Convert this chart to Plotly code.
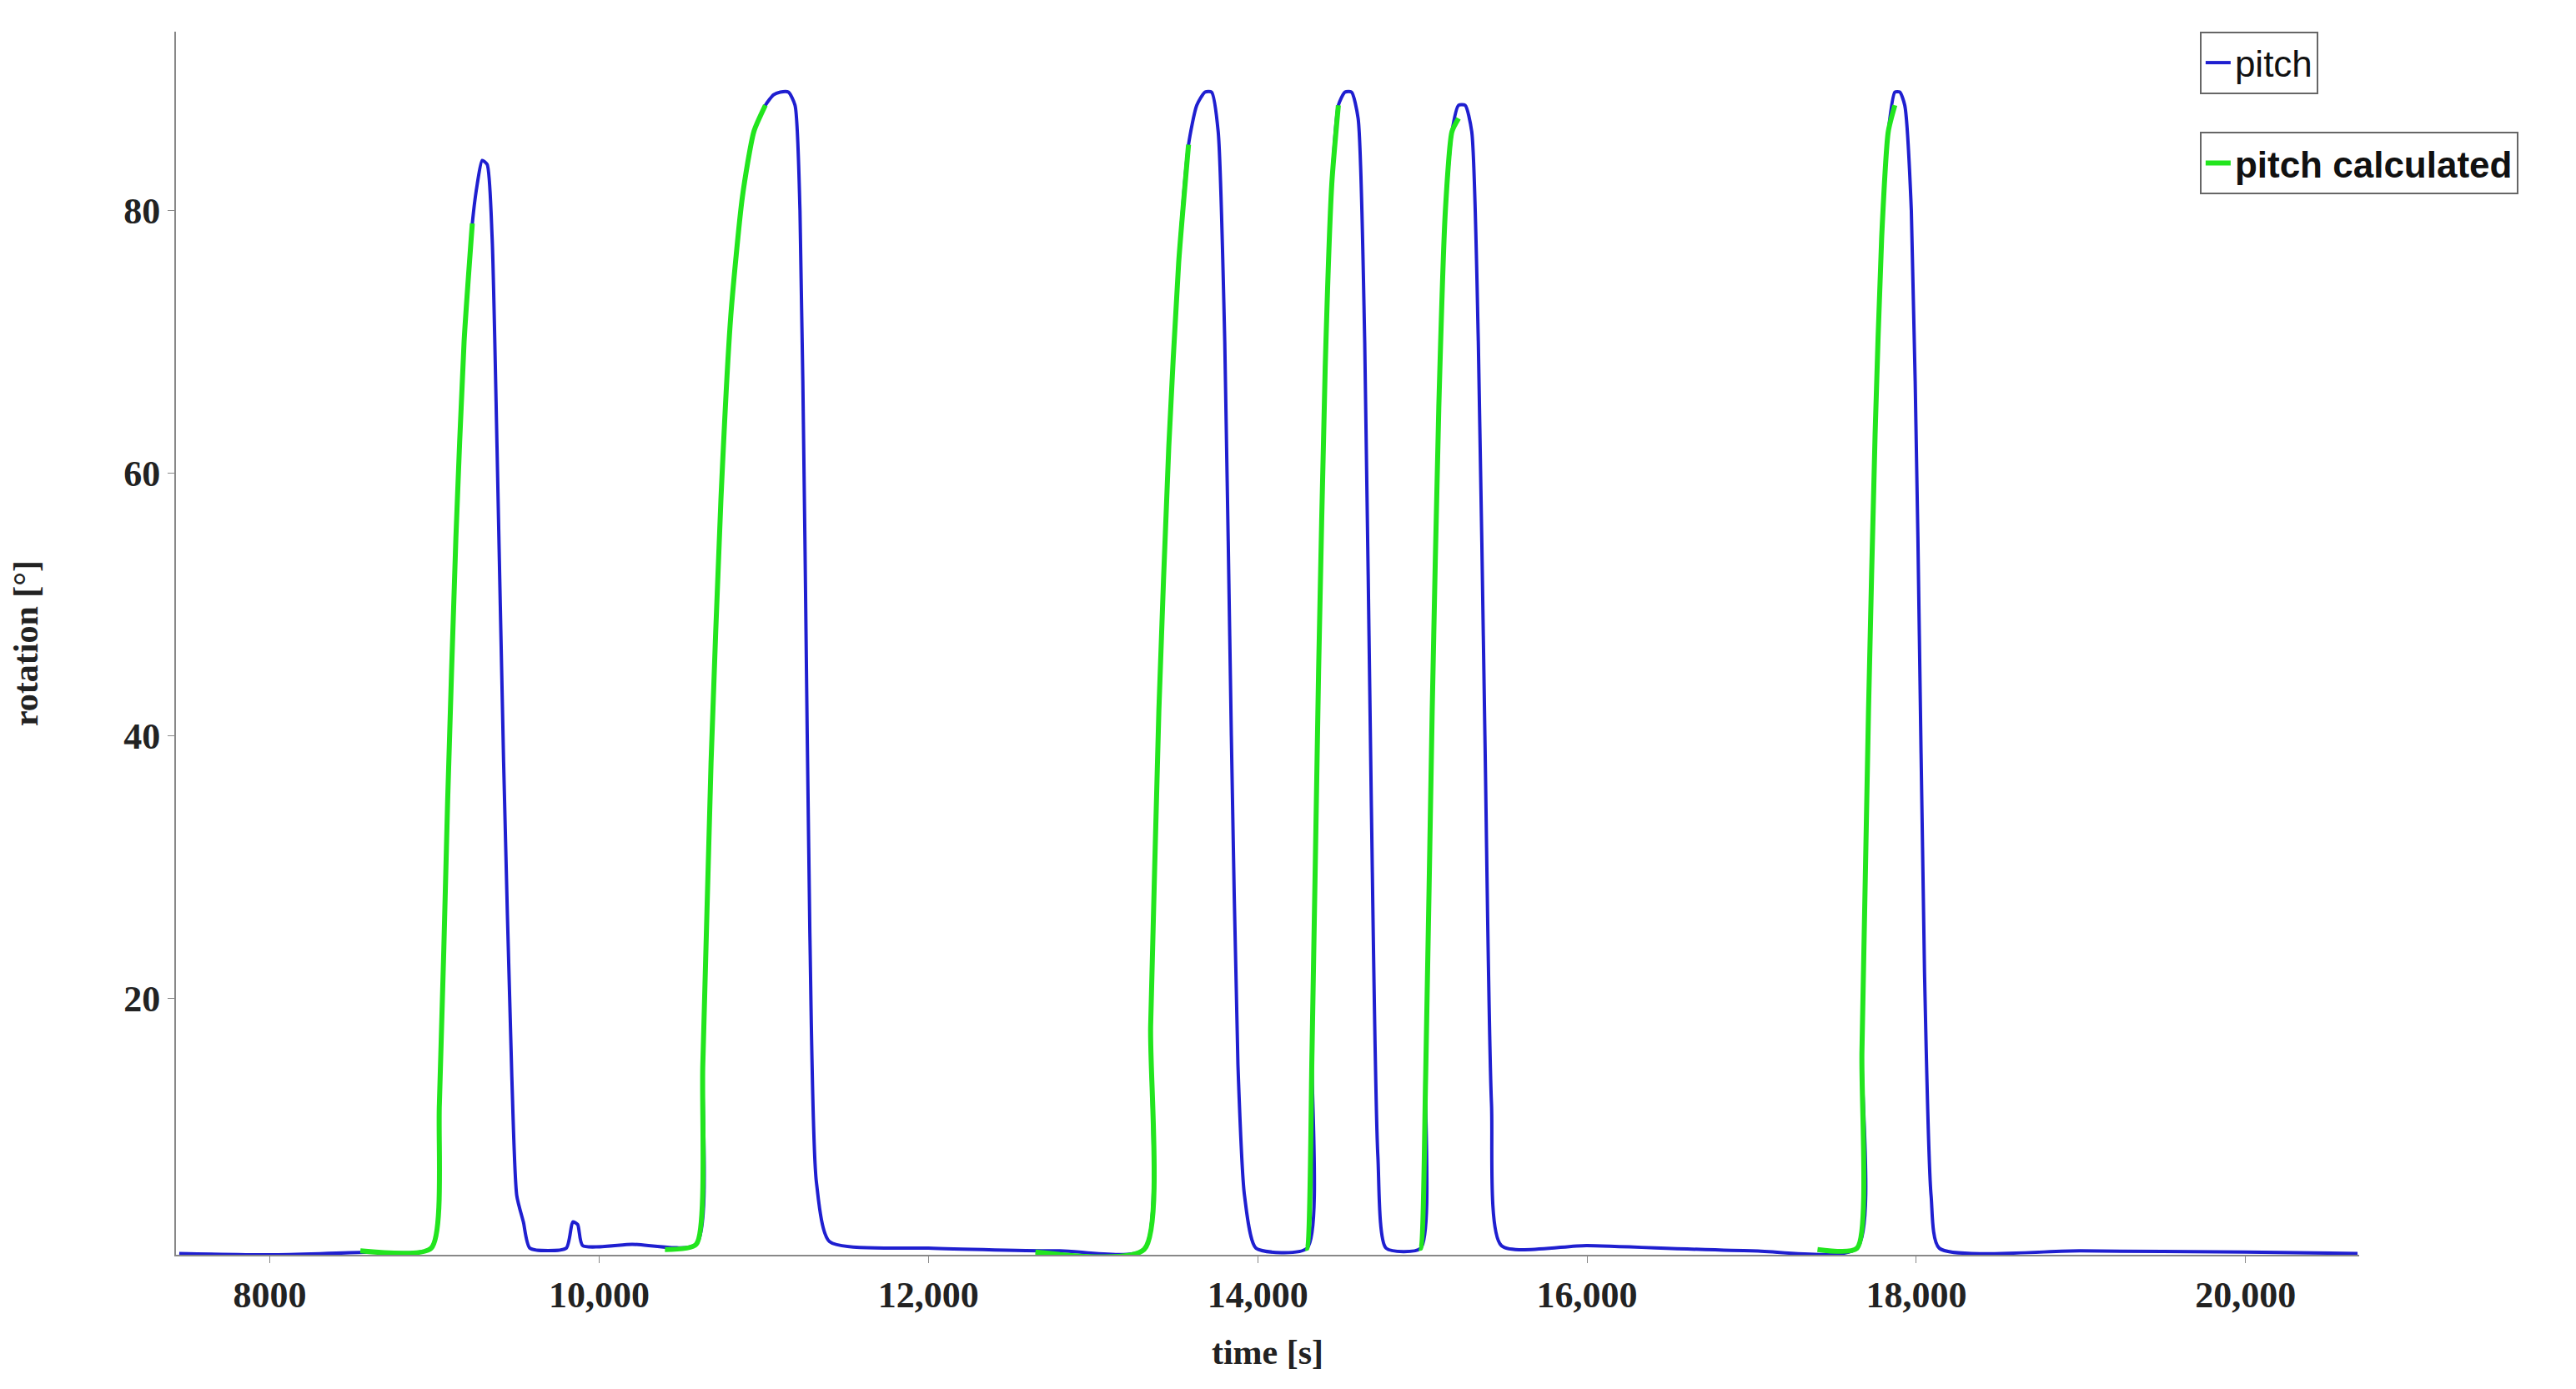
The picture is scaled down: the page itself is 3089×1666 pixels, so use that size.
import plotly.graph_objects as go

pitch_t = [7450, 8000, 8600, 8980, 9030, 9080, 9130, 9180, 9230, 9260, 9290, 9320, 9350, 9380, 9420,
           9470, 9500, 9540, 9580, 9800, 9840, 9870, 9900, 10200, 10590, 10630, 10680, 10740,
           10800, 10870, 10940, 11010, 11060, 11100, 11150, 11190, 11220, 11250, 11280, 11320, 11400,
           12000, 12800, 13310, 13350, 13400, 13460, 13520, 13580, 13630, 13680, 13720, 13760,
           13800, 13840, 13880, 13920, 13990, 14300, 14330, 14370, 14410, 14450, 14490, 14530,
           14570, 14610, 14650, 14690, 14730, 14780, 14990, 15020, 15060, 15100, 15140, 15180,
           15220, 15260, 15300, 15340, 15380, 15420, 15480, 16000, 17000, 17640, 17670, 17710,
           17750, 17790, 17830, 17870, 17900, 17930, 17970, 18010, 18050, 18090, 18140, 19000,
           20000, 20680]
pitch_v = [0.6, 0.5, 0.7, 1.0, 12, 35, 55, 70, 79, 82, 83.8, 83.5, 78, 62, 38,
           14, 5, 3, 1.0, 1.0, 3.0, 2.8, 1.2, 1.3, 1.3, 15, 38, 58,
           72, 81, 86, 88, 88.8, 89, 89, 88, 80, 55, 25, 6, 1.5,
           1.0, 0.8, 0.9, 18, 42, 62, 76, 85, 88, 89, 89, 86,
           70, 40, 15, 5, 1.0, 1.0, 16, 45, 68, 82, 88, 89,
           89, 87, 70, 35, 8, 1.0, 1.0, 14, 42, 65, 80, 86,
           88, 88, 86, 70, 40, 12, 1.2, 1.2, 0.8, 1.0, 16, 42,
           63, 78, 86, 89, 89, 88, 80, 55, 22, 5, 1.0, 0.8,
           0.7, 0.6]

# pitch calculated segments (rising edges)
calc_t = [8550, 8980, 9030, 9080, 9130, 9180, 9230, None,
          10400, 10590, 10630, 10680, 10740, 10800, 10870, 10940, 11010, None,
          12650, 13310, 13350, 13400, 13460, 13520, 13580, None,
          14290, 14300, 14330, 14370, 14410, 14450, 14490, None,
          14980, 14990, 15020, 15060, 15100, 15140, 15180, 15220, None,
          17400, 17640, 17670, 17710, 17750, 17790, 17830, 17870]
calc_v = [0.8, 1.0, 12, 35, 55, 70, 79, None,
          0.9, 1.3, 15, 38, 58, 72, 81, 86, 88, None,
          0.7, 0.9, 18, 42, 62, 76, 85, None,
          1.0, 1.0, 16, 45, 68, 82, 88, None,
          1.0, 1.0, 14, 42, 65, 80, 86, 87, None,
          0.9, 1.0, 16, 42, 63, 78, 86, 88]

xtick_vals = [8000, 10000, 12000, 14000, 16000, 18000, 20000]
xtick_text = ['<b>8000</b>', '<b>10,000</b>', '<b>12,000</b>', '<b>14,000</b>',
              '<b>16,000</b>', '<b>18,000</b>', '<b>20,000</b>']
ytick_vals = [20, 40, 60, 80]
ytick_text = ['<b>20</b>', '<b>40</b>', '<b>60</b>', '<b>80</b>']

fig = go.Figure()
fig.add_trace(go.Scatter(x=pitch_t, y=pitch_v, mode='lines', name='pitch',
                         line=dict(color='#1f1fd0', width=4, shape='spline', smoothing=0.6),
                         legend='legend'))
fig.add_trace(go.Scatter(x=calc_t, y=calc_v, mode='lines', name='<b>pitch calculated</b>',
                         line=dict(color='#22e51e', width=6, shape='spline', smoothing=0.6),
                         legend='legend2'))

serif = 'Liberation Serif'
fig.update_layout(
    width=3089, height=1666,
    margin=dict(l=203, r=268, t=30, b=169, autoexpand=False),
    plot_bgcolor='white', paper_bgcolor='white',
    showlegend=True,
    xaxis=dict(range=[7430, 20690], tickvals=xtick_vals, ticktext=xtick_text,
               showgrid=False, zeroline=False, showline=True, linecolor='#888', linewidth=2,
               ticks='outside', ticklen=8, tickcolor='#888',
               tickfont=dict(family=serif, size=44, color='#222'),
               title=dict(text='<b>time [s]</b>', font=dict(family=serif, size=42, color='#222'),
                          standoff=30)),
    yaxis=dict(range=[0.5, 93.6], tickvals=ytick_vals, ticktext=ytick_text,
               showgrid=False, zeroline=False, showline=True, linecolor='#888', linewidth=2,
               ticks='outside', ticklen=8, tickcolor='#888',
               tickfont=dict(family=serif, size=44, color='#222'),
               title=dict(text='<b>rotation [°]</b>', font=dict(family=serif, size=42, color='#222'),
                          standoff=90)),
    legend=dict(x=0.927, y=1.0, xanchor='left', yanchor='top', bordercolor='#666',
                borderwidth=2, bgcolor='white', font=dict(family='Liberation Sans', size=44, color='#111'),
                itemwidth=30),
    legend2=dict(x=0.927, y=0.918, xanchor='left', yanchor='top', bordercolor='#666',
                 borderwidth=2, bgcolor='white', font=dict(family='Liberation Sans', size=44, color='#111'),
                 itemwidth=30),
)

fig.write_html('out.html')
